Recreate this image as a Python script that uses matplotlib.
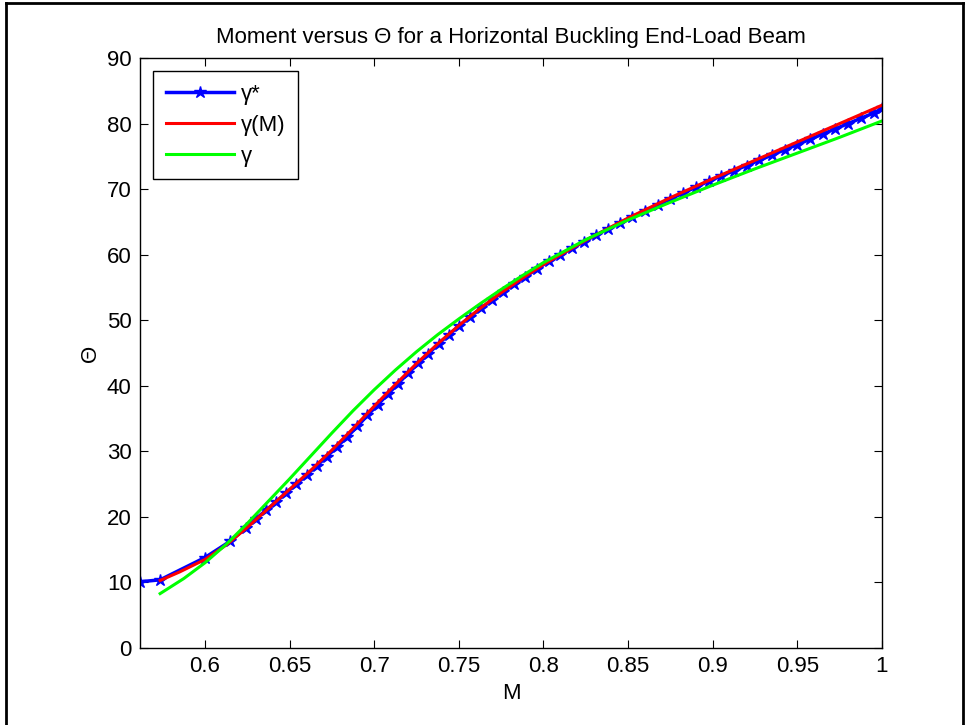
import matplotlib
matplotlib.use("Agg")
import matplotlib.pyplot as plt
from matplotlib.lines import Line2D

plt.rcParams["font.family"] = ["Liberation Sans", "DejaVu Sans"]

# gamma* (blue, star markers)
blue_m = [0.5616, 0.5735, 0.6000, 0.6150, 0.6240, 0.6300, 0.6360, 0.6420, 0.6480,
          0.6540, 0.6600, 0.6660, 0.6720, 0.6780, 0.6840, 0.6900, 0.6960, 0.7020,
          0.7080, 0.7140, 0.7200, 0.7260, 0.7320, 0.7380, 0.7440, 0.7500, 0.7565,
          0.7630, 0.7695, 0.7760, 0.7825, 0.7890, 0.7960, 0.8030, 0.8100, 0.8170,
          0.8240, 0.8310, 0.8380, 0.8450, 0.8525, 0.8600, 0.8675, 0.8750, 0.8825,
          0.8900, 0.8975, 0.9050, 0.9125, 0.9200, 0.9275, 0.9350, 0.9425, 0.9500,
          0.9575, 0.9650, 0.9725, 0.9800, 0.9875, 0.9950, 1.0000]
blue_theta = [10.1, 10.4, 13.8, 16.3, 18.3, 19.7, 21.0, 22.3, 23.7,
              25.0, 26.4, 27.8, 29.2, 30.7, 32.2, 33.8, 35.5, 37.1,
              38.7, 40.3, 41.9, 43.4, 44.9, 46.4, 47.8, 49.1, 50.5,
              51.8, 53.1, 54.3, 55.5, 56.6, 57.8, 59.0, 60.0, 61.0,
              62.0, 63.0, 63.9, 64.8, 65.8, 66.7, 67.6, 68.5, 69.4,
              70.3, 71.2, 72.0, 72.8, 73.6, 74.4, 75.2, 76.0, 76.8,
              77.6, 78.4, 79.2, 80.0, 80.8, 81.6, 82.3]

# gamma(M) (red)
red_m = [0.5735, 0.585, 0.6, 0.6125, 0.625, 0.6375, 0.65, 0.6625, 0.675, 0.6875,
         0.7, 0.7125, 0.725, 0.7375, 0.75, 0.7625, 0.775, 0.7875, 0.8, 0.825,
         0.85, 0.875, 0.9, 0.925, 0.95, 0.975, 1.0]
red_theta = [10.3, 11.6, 13.5, 15.7, 18.4, 21.3, 24.2, 27.1, 30.2, 33.5,
             36.9, 40.2, 43.4, 46.4, 49.2, 51.8, 54.2, 56.4, 58.5, 62.2,
             65.6, 68.7, 71.6, 74.4, 77.2, 80.0, 82.8]

# gamma (green)
green_m = [0.5735, 0.5875, 0.6, 0.6125, 0.625, 0.6375, 0.65, 0.6625, 0.675, 0.6875,
           0.7, 0.7125, 0.725, 0.7375, 0.75, 0.7625, 0.775, 0.7875, 0.8, 0.825,
           0.85, 0.875, 0.9, 0.925, 0.95, 0.975, 1.0]
green_theta = [8.3, 10.6, 13.0, 15.8, 19.0, 22.4, 25.8, 29.3, 32.8, 36.2,
               39.4, 42.4, 45.2, 47.8, 50.2, 52.5, 54.7, 56.8, 58.8, 62.3,
               65.3, 68.0, 70.6, 73.1, 75.5, 77.9, 80.4]

x_ticks = [0.6, 0.65, 0.7, 0.75, 0.8, 0.85, 0.9, 0.95, 1]
x_labels = ["0.6", "0.65", "0.7", "0.75", "0.8", "0.85", "0.9", "0.95", "1"]
y_ticks = list(range(0, 91, 10))

fig = plt.figure(figsize=(9.66, 7.25), dpi=100)
ax = fig.add_axes([140 / 966, 77 / 725, 742 / 966, 590 / 725])

ax.plot(blue_m, blue_theta, color=(0, 0, 1), linewidth=2.5, marker="*",
        markersize=9, label="γ*")
ax.plot(red_m, red_theta, color=(1, 0, 0), linewidth=2.2, label="γ(M)")
ax.plot(green_m, green_theta, color=(0, 1, 0), linewidth=2.2, label="γ")

ax.set_xlim(0.5616, 1.0)
ax.set_ylim(0, 90)
ax.set_xticks(x_ticks)
ax.set_xticklabels(x_labels)
ax.set_yticks(y_ticks)
ax.tick_params(direction="in", top=True, right=True, labelsize=16, length=6,
               pad=6)
for sp in ax.spines.values():
    sp.set_linewidth(1)

ax.set_title("Moment versus Θ for a Horizontal Buckling End-Load Beam",
             fontsize=16, pad=11)
ax.set_xlabel("M", fontsize=16, labelpad=4)
ax.set_ylabel("Θ", fontsize=16, labelpad=4)

leg = ax.legend(loc="upper left", fontsize=16, fancybox=False, framealpha=1,
                edgecolor="black", borderaxespad=0.6, handlelength=3.1,
                handletextpad=0.3, labelspacing=0.45, borderpad=0.55)
leg.get_frame().set_linewidth(1)

# outer frame
for xs, ys in [([0.006, 0.006], [0, 0.996]), ([0.006, 0.997], [0.996, 0.996]),
               ([0.997, 0.997], [0, 0.996])]:
    fig.add_artist(Line2D(xs, ys, color="black", linewidth=2,
                          transform=fig.transFigure))

fig.savefig("out.png", dpi=100)
